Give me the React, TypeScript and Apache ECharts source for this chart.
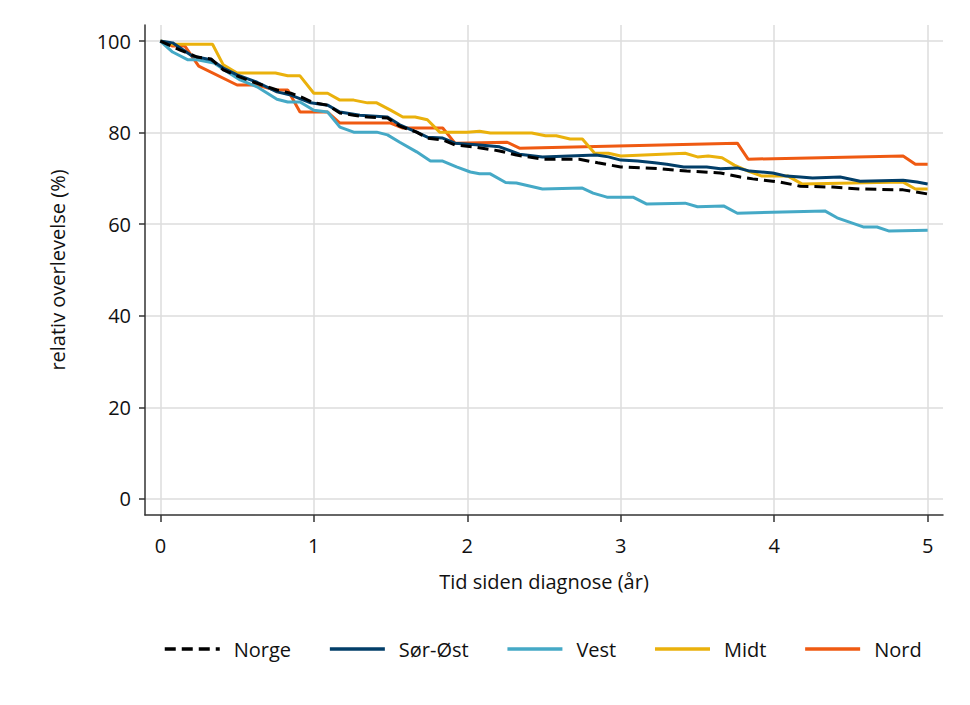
import React, { useEffect, useRef } from "react";
import * as echarts from "echarts";

const xTicks = [0, 1, 2, 3, 4, 5];
const yTicks = [0, 20, 40, 60, 80, 100];
const seriesNames = ["Norge", "Sør-Øst", "Vest", "Midt", "Nord"];

const norge: number[][] = [
  [0, 100], [0.13, 98], [0.24, 96.5], [0.33, 96.1], [0.41, 93.7], [0.52, 92.1], [0.61, 91],
  [0.76, 89.3], [0.85, 88.6], [0.93, 87.6], [1.0, 86.5], [1.09, 86], [1.17, 84.3], [1.26, 83.8],
  [1.35, 83.4], [1.48, 83.2], [1.56, 81.4], [1.67, 80.1], [1.74, 78.8], [1.84, 78.4], [1.92, 77.3],
  [2.04, 76.9], [2.21, 76], [2.32, 75.1], [2.49, 74.2], [2.73, 74.2], [2.85, 73.4], [3.0, 72.5],
  [3.26, 72.1], [3.43, 71.6], [3.65, 71.2], [3.78, 70.3], [3.86, 69.9], [4.04, 69.2], [4.17, 68.3],
  [4.38, 68.1], [4.56, 67.7], [4.84, 67.5], [5, 66.6],
];

const sorOst: number[][] = [
  [0, 100], [0.08, 99.6], [0.13, 98.5], [0.21, 96.7], [0.33, 95.9], [0.41, 94.1], [0.5, 92.6],
  [0.63, 91], [0.76, 88.9], [0.85, 88.2], [0.98, 86.5], [1.09, 86], [1.17, 84.5], [1.3, 83.8],
  [1.48, 83.4], [1.56, 81.7], [1.67, 80.1], [1.74, 79], [1.84, 78.8], [1.92, 77.7], [2.08, 77.3],
  [2.21, 76.9], [2.34, 75.3], [2.49, 74.7], [2.84, 75.1], [2.92, 74.7], [3.0, 74], [3.11, 73.8],
  [3.22, 73.4], [3.3, 73.1], [3.41, 72.5], [3.56, 72.5], [3.65, 72.1], [3.76, 72.3], [3.84, 71.6],
  [3.99, 71.2], [4.08, 70.5], [4.17, 70.3], [4.25, 70.1], [4.43, 70.3], [4.56, 69.4], [4.84, 69.6],
  [4.93, 69.2], [5, 68.8],
];

const vest: number[][] = [
  [0, 100], [0.08, 97.6], [0.18, 95.9], [0.24, 95.9], [0.35, 95.2], [0.44, 93.2], [0.52, 91.5],
  [0.63, 90], [0.76, 87.3], [0.83, 86.7], [0.91, 86.7], [1.0, 84.9], [1.09, 84.5], [1.17, 81.2],
  [1.26, 80.1], [1.41, 80.1], [1.48, 79.5], [1.56, 77.9], [1.67, 75.8], [1.76, 73.8], [1.84, 73.8],
  [1.93, 72.5], [2.02, 71.4], [2.08, 71], [2.15, 71], [2.25, 69.1], [2.32, 69], [2.49, 67.7],
  [2.75, 67.9], [2.82, 66.8], [2.91, 65.9], [3.08, 65.9], [3.17, 64.4], [3.42, 64.6], [3.5, 63.8],
  [3.67, 64], [3.76, 62.4], [4.33, 62.9], [4.41, 61.4], [4.58, 59.4], [4.67, 59.4], [4.75, 58.5],
  [5, 58.7],
];

const midt: number[][] = [
  [0, 100], [0.08, 99.3], [0.34, 99.3], [0.41, 94.8], [0.5, 93], [0.75, 93], [0.83, 92.4],
  [0.91, 92.4], [1.0, 88.6], [1.09, 88.6], [1.17, 87.1], [1.26, 87.1], [1.35, 86.5], [1.41, 86.5],
  [1.5, 84.9], [1.58, 83.4], [1.66, 83.4], [1.74, 82.8], [1.82, 80.1], [2.0, 80.1], [2.08, 80.3],
  [2.15, 79.9], [2.42, 79.9], [2.51, 79.3], [2.58, 79.3], [2.67, 78.6], [2.75, 78.6], [2.83, 75.5],
  [2.92, 75.5], [3.0, 74.9], [3.42, 75.5], [3.5, 74.7], [3.57, 74.9], [3.66, 74.5], [3.74, 72.9],
  [3.83, 71.6], [3.92, 70.5], [4.09, 70.5], [4.18, 68.8], [4.84, 69.2], [4.92, 67.7], [5, 67.7],
];

const nord: number[][] = [
  [0, 100], [0.08, 98.9], [0.16, 98.9], [0.25, 94.5], [0.5, 90.4], [0.63, 90.4], [0.75, 89.3],
  [0.83, 89.3], [0.91, 84.5], [1.09, 84.5], [1.17, 82.1], [1.5, 82.1], [1.58, 81], [1.84, 81],
  [1.92, 77.7], [2.26, 77.9], [2.34, 76.6], [3.76, 77.7], [3.83, 74.2], [4.84, 74.9], [4.92, 73.1],
  [5, 73.1],
];

const seriesData = [norge, sorOst, vest, midt, nord];
const colors = ["#000000", "#023e68", "#45a9c6", "#eab10c", "#ef5a12"];

export default function App() {
  const ref = useRef<HTMLDivElement>(null);
  useEffect(() => {
    if (!ref.current) return;
    const chart = echarts.init(ref.current, undefined, { renderer: "svg" });
    const font = "'Open Sans', 'Noto Sans', sans-serif";
    const txt = { fontSize: 20, color: "#111", fontFamily: font };
    chart.setOption({
      animation: false,
      backgroundColor: "#ffffff",
      textStyle: { fontFamily: font },
      grid: { left: 145, right: 27, top: 25, bottom: 190, containLabel: false },
      legend: {
        left: 158,
        top: 634,
        itemWidth: 55,
        itemHeight: 1,
        itemGap: 37,
        itemStyle: { opacity: 0 },
        lineStyle: { width: 3.5 },
        textStyle: { ...txt, padding: [0, 0, 0, 9] },
        data: seriesNames,
      },
      xAxis: {
        type: "value",
        min: -0.1,
        max: 5.1,
        name: "Tid siden diagnose (år)",
        nameLocation: "middle",
        nameGap: 56,
        nameTextStyle: txt,
        axisLine: { show: true, onZero: false, lineStyle: { color: "#333", width: 1.5 } },
        axisTick: { show: true, length: 7, customValues: xTicks, lineStyle: { color: "#333", width: 1.5 } },
        axisLabel: { ...txt, customValues: xTicks, margin: 20 },
        splitLine: { show: true, lineStyle: { color: "#dcdcdc", width: 1.5 } },
      },
      yAxis: {
        type: "value",
        min: -3.5,
        max: 103.5,
        name: "relativ overlevelse (%)",
        nameLocation: "middle",
        nameGap: 78,
        nameTextStyle: txt,
        axisLine: { show: true, onZero: false, lineStyle: { color: "#333", width: 1.5 } },
        axisTick: { show: true, length: 6, customValues: yTicks, lineStyle: { color: "#333", width: 1.5 } },
        axisLabel: { ...txt, customValues: yTicks, margin: 14 },
        splitLine: { show: true, lineStyle: { color: "#dcdcdc", width: 1.5 } },
      },
      series: seriesNames.map((name, i) => ({
        name,
        type: "line",
        data: seriesData[i],
        showSymbol: false,
        symbol: "none",
        z: i === 0 ? 10 : 7 - i,
        color: colors[i],
        lineStyle: {
          color: colors[i],
          width: 3,
          type: i === 0 ? [11, 6] : "solid",
        },
      })),
    });
    return () => chart.dispose();
  }, []);
  return <div ref={ref} style={{ width: 970, height: 705, margin: -8 }} />;
}
